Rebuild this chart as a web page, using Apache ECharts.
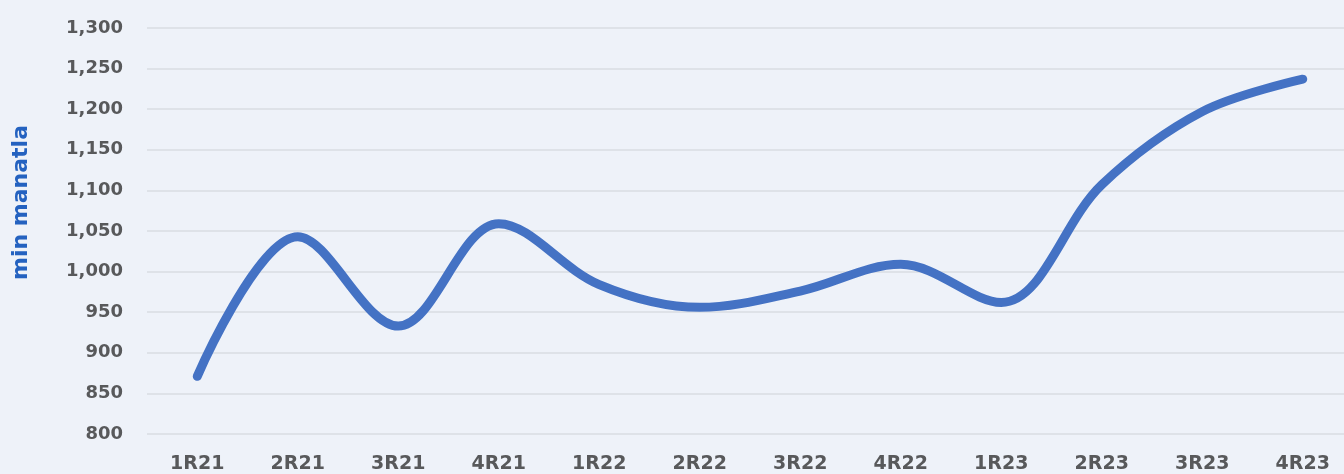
<!DOCTYPE html>
<html><head><meta charset="utf-8">
<script src="https://cdn.jsdelivr.net/npm/echarts@6/dist/echarts.min.js"></script>
<style>html,body{margin:0;padding:0;background:#eef2f9;overflow:hidden;width:1344px;height:474px;}#c{width:1360px;height:474px;}</style>
</head><body><div id="c"></div>
<script>
const categories = ['1R21','2R21','3R21','4R21','1R22','2R22','3R22','4R22','1R23','2R23','3R23','4R23'];
const values = [871, 1043, 933, 1059, 984, 956, 976, 1009, 962, 1107, 1197, 1237];
const axisTitle = 'min manatla';

const chart = echarts.init(document.getElementById('c'));
chart.setOption({
  backgroundColor: '#eef2f9',
  animation: false,
  grid: {left: 147, right: 7, top: 28, bottom: 39},
  xAxis: {
    type: 'category', data: categories, boundaryGap: true,
    axisLine: {show: false}, axisTick: {show: false},
    axisLabel: {color: '#58595b', fontFamily: 'DejaVu Sans', fontWeight: 'bold', fontSize: 19, margin: 21}
  },
  yAxis: {
    type: 'value', min: 800, max: 1300, interval: 50,
    axisLine: {show: false}, axisTick: {show: false},
    splitLine: {lineStyle: {color: '#d9dce2', width: 1.5}},
    axisLabel: {color: '#58595b', fontFamily: 'DejaVu Sans', fontWeight: 'bold', fontSize: 18, margin: 24,
      formatter: v => v.toLocaleString('en-US')}
  },
  graphic: [{
    type: 'text', left: 10, top: 125, rotation: Math.PI/2,
    style: {text: axisTitle, fill: '#2462c0', font: 'bold 22px "DejaVu Sans"'}
  }],
  series: [{
    type: 'line', data: values, smooth: 0.35, symbol: 'none',
    lineStyle: {color: '#4472c4', width: 9, cap: 'round'}
  }]
});
</script></body></html>
